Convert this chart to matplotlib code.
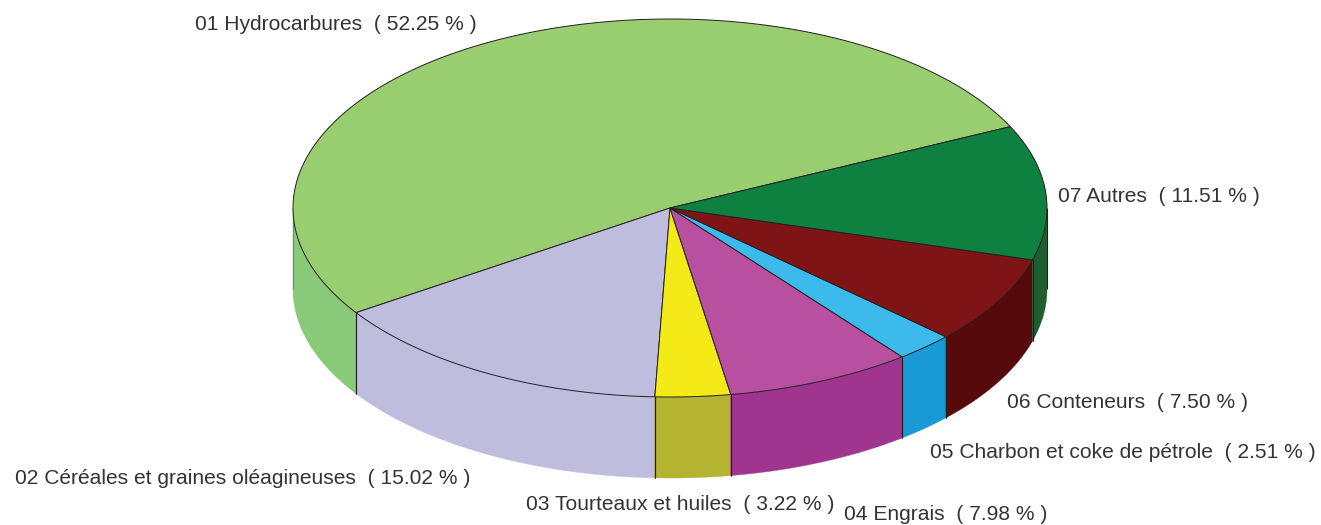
import numpy as np
import matplotlib
matplotlib.use('Agg')
import matplotlib.pyplot as plt
from matplotlib.patches import Polygon

plt.rcParams['font.family'] = ['Liberation Sans', 'DejaVu Sans']

#categories and shares (percent), counter-clockwise from the start angle
names = ['01 Hydrocarbures', '02 Céréales et graines oléagineuses', '03 Tourteaux et huiles',
         '04 Engrais', '05 Charbon et coke de pétrole', '06 Conteneurs', '07 Autres']
values = [52.25, 15.02, 3.22, 7.98, 2.51, 7.50, 11.51]
top_colors = ['#99CE70', '#BFBDDE', '#F3EA17', '#B8509F', '#3CBAEC', '#7F1416', '#0E8040']
side_colors = ['#88C97A', '#BFBDDE', '#B4B432', '#A03590', '#189AD6', '#570A0B', '#1F5E30']
label_pos = [(195, 22), (15, 477), (526, 502), (844, 513), (930, 451), (1007, 401), (1058, 195)]

#pie geometry, in pixels
cx, cy = 670, 208
rx, ry = 377, 189
depth = 81
start = 25.5

fig = plt.figure(figsize=(13.21, 5.25), dpi=100)
ax = fig.add_axes([0, 0, 1, 1])
ax.set_xlim(0, 1321)
ax.set_ylim(525, 0)
ax.axis('off')

def rim(a, b):
    t = np.radians(np.linspace(a, b, max(int(abs(b - a) * 2), 2)))
    return cx + rx * np.cos(t), cy - ry * np.sin(t)

angle = start
edges = []
for v in values:
    edges.append((angle, angle + v / sum(values) * 360))
    angle = edges[-1][1]

#side walls, only the part of the rim facing the viewer (180..360 deg)
for (a, b), col in zip(edges, side_colors):
    for lo, hi in [(180, 360), (540, 720)]:
        a2, b2 = max(a, lo), min(b, hi)
        if a2 >= b2:
            continue
        x, y = rim(a2, b2)
        pts = np.r_[np.c_[x, y], np.c_[x[::-1], y[::-1] + depth]]
        ax.add_patch(Polygon(pts, closed=True, fc=col, ec=col, lw=0.3, zorder=2))
        #slice boundaries on the wall, not at the silhouette
        if a2 == a:
            ax.plot([x[0], x[0]], [y[0], y[0] + depth], color='#231F20', lw=0.8, zorder=2.5, solid_capstyle='butt')
        if b2 == b and b % 360 > 180:
            ax.plot([x[-1], x[-1]], [y[-1], y[-1] + depth], color='#231F20', lw=0.8, zorder=2.5, solid_capstyle='butt')

#silhouette lines left and right
ax.plot([cx - rx, cx - rx], [cy, cy + depth], color='#808080', lw=0.8, zorder=2.5, solid_capstyle='butt')
ax.plot([cx + rx, cx + rx], [cy, cy + depth], color='#231F20', lw=0.8, zorder=2.5, solid_capstyle='butt')

#top faces
for (a, b), col in zip(edges, top_colors):
    x, y = rim(a, b)
    pts = np.r_[[[cx, cy]], np.c_[x, y]]
    ax.add_patch(Polygon(pts, closed=True, fc=col, ec='#231F20', lw=0.7, zorder=3))

for name, v, (lx, ly) in zip(names, values, label_pos):
    ax.text(lx, ly, '%s  ( %.2f %% )' % (name, v), fontsize=15.1, color='#333335', ha='left', va='center_baseline')

fig.savefig('out.png', dpi=100)
